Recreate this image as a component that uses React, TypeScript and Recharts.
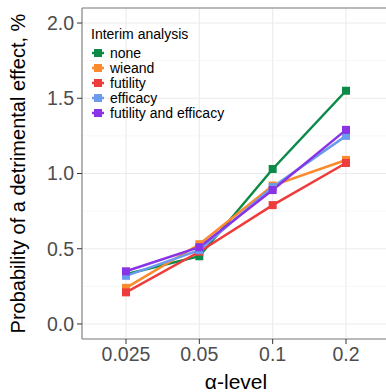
import { LineChart, Line, XAxis, YAxis, CartesianGrid, ReferenceLine } from 'recharts';

const alphaLevels = ['0.025', '0.05', '0.1', '0.2'];
const none = [0.33, 0.45, 1.03, 1.55];
const wieand = [0.24, 0.53, 0.92, 1.09];
const futility = [0.21, 0.48, 0.79, 1.07];
const efficacy = [0.32, 0.49, 0.91, 1.25];
const futilityEfficacy = [0.35, 0.51, 0.89, 1.29];

const yTicks = [0, 0.5, 1, 1.5, 2];
const yMinor = [0.25, 0.75, 1.25, 1.75];

const series = [
    { key: 'none', name: 'none', values: none, color: '#0B8A48' },
    { key: 'wieand', name: 'wieand', values: wieand, color: '#FA8A2C' },
    { key: 'futility', name: 'futility', values: futility, color: '#EE3B3B' },
    { key: 'efficacy', name: 'efficacy', values: efficacy, color: '#6A9BEC' },
    { key: 'futEff', name: 'futility and efficacy', values: futilityEfficacy, color: '#8A33E6' },
];

const data = alphaLevels.map((a, i) => {
    const row: any = { alpha: a };
    series.forEach(s => { row[s.key] = s.values[i]; });
    return row;
});

const font = '"Liberation Sans", Arial, sans-serif';

function SquareDot(color: string) {
    return (props: any) => {
        const { cx, cy, index } = props;
        if (cx == null || cy == null) return <g key={index} />;
        return <rect key={index} x={cx - 4} y={cy - 4} width={8} height={8} fill={color} />;
    };
}

function LegendBox() {
    return (
        <div style={{ position: 'absolute', left: 91, top: 26, fontFamily: font, color: '#000' }}>
            <div style={{ fontSize: 14, marginBottom: 3 }}>Interim analysis</div>
            {series.map(s => (
                <div key={s.key} style={{ display: 'flex', alignItems: 'center', height: 15.2 }}>
                    <svg width={14} height={14} style={{ marginRight: 5 }}>
                        <line x1={1} y1={7} x2={13} y2={7} stroke={s.color} strokeWidth={2.5} />
                        <rect x={3} y={3} width={8} height={8} fill={s.color} />
                    </svg>
                    <span style={{ fontSize: 14 }}>{s.name}</span>
                </div>
            ))}
        </div>
    );
}

export default function App() {
    return (
        <div style={{ position: 'absolute', left: 0, top: 0, width: 386, height: 392, overflow: 'hidden', background: '#fff' }}>
            <LineChart width={394} height={392} data={data} margin={{ top: 8, right: 4, bottom: 0, left: 0 }}>
                <CartesianGrid stroke="#EBEBEB" strokeWidth={1.1} />
                {yMinor.map(v => (
                    <ReferenceLine key={v} y={v} stroke="#F4F4F4" strokeWidth={0.7} />
                ))}
                <ReferenceLine y={2.1} stroke="#808080" strokeWidth={1.1} />
                <XAxis
                    dataKey="alpha"
                    padding={{ left: 44, right: 44 }}
                    height={53}
                    axisLine={{ stroke: '#808080', strokeWidth: 1.1 }}
                    tickLine={{ stroke: '#333333' }}
                    tickSize={5}
                    tickMargin={3}
                    tick={{ fill: '#4D4D4D', fontSize: 19.5, fontFamily: font }}
                    label={{ value: 'α-level', position: 'insideBottom', offset: 3, style: { fill: '#000', fontSize: 21, fontFamily: font } }}
                />
                <YAxis
                    type="number"
                    domain={[-0.1, 2.1]}
                    allowDataOverflow
                    ticks={yTicks}
                    tickFormatter={(v: number) => v.toFixed(1)}
                    width={82}
                    axisLine={{ stroke: '#808080', strokeWidth: 1.1 }}
                    tickLine={{ stroke: '#333333' }}
                    tickSize={5}
                    tickMargin={3}
                    tick={{ fill: '#4D4D4D', fontSize: 19.5, fontFamily: font }}
                    label={{
                        value: 'Probability of a detrimental effect, %',
                        angle: -90,
                        position: 'insideLeft',
                        offset: 18,
                        style: { fill: '#000', fontSize: 20, fontFamily: font, textAnchor: 'middle' },
                    }}
                />
                {series.map(s => (
                    <Line
                        key={s.key}
                        dataKey={s.key}
                        name={s.name}
                        stroke={s.color}
                        strokeWidth={2.5}
                        dot={SquareDot(s.color)}
                        activeDot={false}
                        isAnimationActive={false}
                    />
                ))}
            </LineChart>
            <LegendBox />
        </div>
    );
}
